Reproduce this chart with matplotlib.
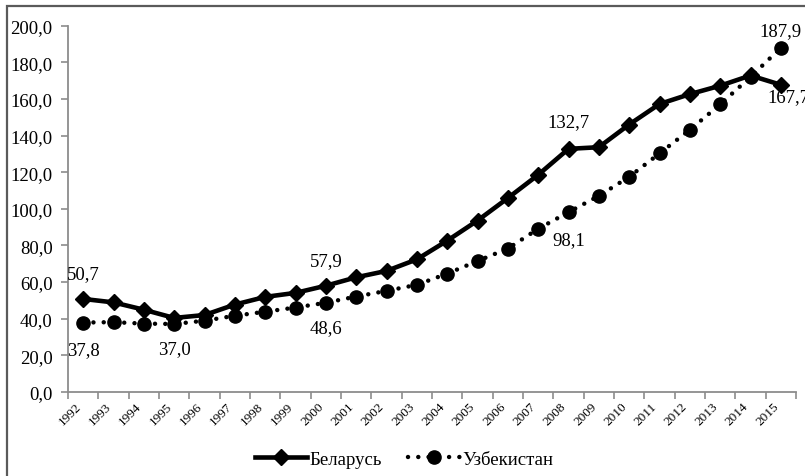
import matplotlib
matplotlib.use("Agg")
import matplotlib.pyplot as plt
from matplotlib.patches import Rectangle
from matplotlib.ticker import FuncFormatter, FixedLocator
import numpy as np

plt.rcParams["font.family"] = ["Liberation Serif", "DejaVu Serif"]

# Data
years = [str(y) for y in range(1992, 2016)]
belarus = [50.7, 48.8, 44.8, 40.3, 41.9, 47.6, 51.8, 54.0, 57.9, 62.5, 66.0, 72.3,
           82.5, 93.5, 105.8, 118.5, 132.7, 133.6, 146.0, 157.2, 162.6, 167.2, 172.8, 167.7]
uzbek = [37.8, 38.0, 37.2, 37.0, 38.8, 41.5, 43.7, 46.0, 48.6, 52.0, 55.1, 58.4,
         64.5, 71.4, 78.2, 89.0, 98.1, 107.0, 117.4, 130.2, 143.1, 157.0, 172.0, 187.9]

# (index, text, dx px, dy px)
labels_b = [(0, "50,7", 0, 25), (8, "57,9", 0, 25), (16, "132,7", 0, 27), (23, "167,7", 8, -12)]
labels_u = [(0, "37,8", 0, -27), (3, "37,0", 0, -25), (8, "48,6", 0, -25), (16, "98,1", 0, -27),
            (23, "187,9", 0, 17)]

fig = plt.figure(figsize=(8.05, 4.77), dpi=100)
ax = fig.add_axes([68 / 805, 1 - 392.7 / 477, (796 - 68) / 805, (392.7 - 26.7) / 477])

x = np.arange(len(years))
ax.plot(x, belarus, color="black", lw=3.3, marker="D", ms=8.5, label="Беларусь", zorder=3)
ax.plot(x, uzbek, color="black", lw=3.2, linestyle=(0, (0.01, 2.3)), dash_capstyle="round",
        marker="o", ms=9.5, label="Узбекистан", zorder=3)

for i, t, dx, dy in labels_b:
    ax.annotate(t, (x[i], belarus[i]), xytext=(dx, dy), textcoords="offset pixels",
                ha="center", va="center", fontsize=13.5, annotation_clip=False)
for i, t, dx, dy in labels_u:
    ax.annotate(t, (x[i], uzbek[i]), xytext=(dx, dy), textcoords="offset pixels",
                ha="center", va="center", fontsize=13.5, annotation_clip=False)

ax.set_xlim(-0.5, len(years) - 0.5)
ax.set_ylim(0, 200)
ax.set_yticks(np.arange(0, 201, 20))
ax.yaxis.set_major_formatter(FuncFormatter(lambda v, p: f"{v:.1f}".replace(".", ",")))
ax.tick_params(axis="y", labelsize=13.5, length=5, width=1.2, color="#8c8c8c", pad=6)

# category axis: ticks between categories, labels at the centres
ax.xaxis.set_major_locator(FixedLocator(np.arange(-0.5, len(years), 1.0)))
ax.xaxis.set_minor_locator(FixedLocator(x))
ax.set_xticklabels([])
ax.set_xticklabels(years, minor=True, rotation=45, ha="right", va="top")
ax.tick_params(axis="x", which="major", length=5, width=1.2, color="#8c8c8c")
ax.tick_params(axis="x", which="minor", length=0, labelsize=9.5, pad=6)

for s in ["top", "right"]:
    ax.spines[s].set_visible(False)
for s in ["left", "bottom"]:
    ax.spines[s].set_color("#8c8c8c")
    ax.spines[s].set_linewidth(1.3)

fig.legend(loc="center", bbox_to_anchor=(404 / 805, 1 - 460 / 477), ncol=2, frameon=False,
           fontsize=13.5, handlelength=2.8, columnspacing=1.4, handletextpad=0.1)

# outer frame (cut off at right and bottom)
fig.patches.append(Rectangle((6.5 / 805, -0.1), 1.2, 1 - 6.5 / 477 + 0.1, transform=fig.transFigure,
                             fill=False, edgecolor="#5a5a5a", lw=1.6, zorder=0))

fig.savefig("out.png", dpi=100)
